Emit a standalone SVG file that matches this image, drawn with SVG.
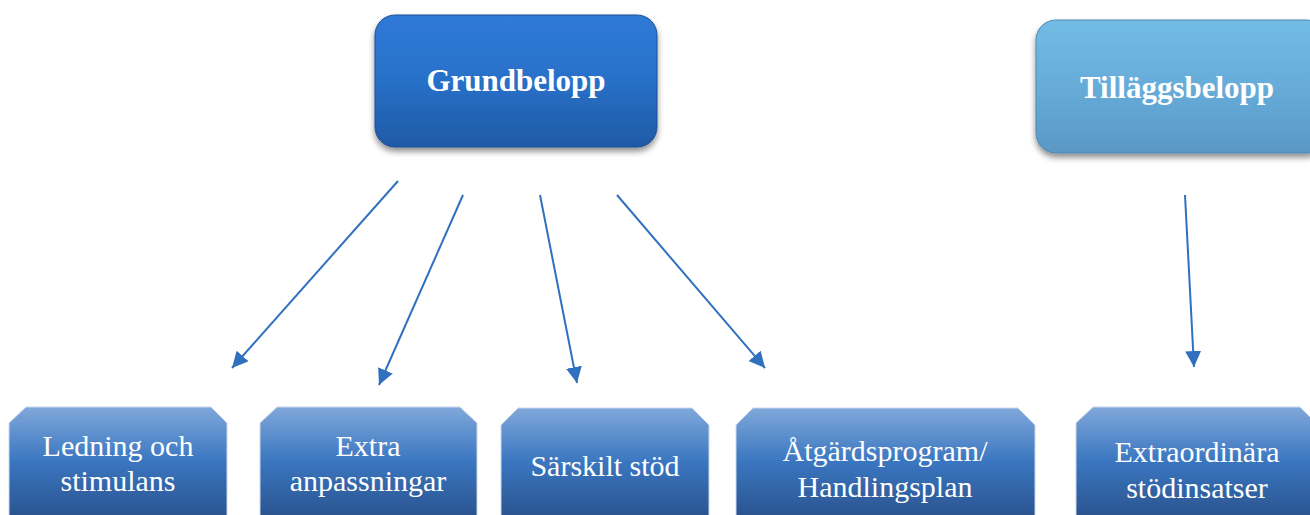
<svg xmlns="http://www.w3.org/2000/svg" width="1310" height="515" viewBox="0 0 1310 515">
<defs>
<style>
.top{font-family:"Liberation Serif","Times New Roman",serif;font-weight:bold;font-size:31px;fill:#ffffff;text-anchor:middle}
.lbl{font-family:"Liberation Serif","Times New Roman",serif;font-size:30px;fill:#ffffff;text-anchor:middle}
.conn{stroke:#3070bf;stroke-width:2;fill:none}
.leaf{fill:url(#gLeaf);stroke:#c9d8ee;stroke-width:1}
</style>
<linearGradient id="gDark" x1="0" y1="0" x2="0" y2="1">
<stop offset="0" stop-color="#2e7ad6"/>
<stop offset="0.5" stop-color="#2870c8"/>
<stop offset="1" stop-color="#1f5aa6"/>
</linearGradient>
<linearGradient id="gLight" x1="0" y1="0" x2="0" y2="1">
<stop offset="0" stop-color="#72bce6"/>
<stop offset="0.5" stop-color="#67acd9"/>
<stop offset="1" stop-color="#5a98c6"/>
</linearGradient>
<linearGradient id="gLeaf" x1="0" y1="0" x2="0" y2="1">
<stop offset="0" stop-color="#80a8da"/>
<stop offset="0.5" stop-color="#3a76c0"/>
<stop offset="1" stop-color="#2b5490"/>
</linearGradient>
<filter id="sh" x="-10%" y="-10%" width="120%" height="135%">
<feGaussianBlur in="SourceAlpha" stdDeviation="3"/>
<feOffset dx="0" dy="4" result="b"/>
<feComponentTransfer><feFuncA type="linear" slope="0.45"/></feComponentTransfer>
<feMerge><feMergeNode/><feMergeNode in="SourceGraphic"/></feMerge>
</filter>
<marker id="ah" markerUnits="userSpaceOnUse" markerWidth="18" markerHeight="16" refX="16" refY="8" orient="auto">
<path d="M0,0 L16,8 L0,16 Z" fill="#3070bf"/>
</marker>
</defs>
<rect width="1310" height="515" fill="#ffffff"/>

<g id="grundbelopp">
<rect x="375" y="15" width="282" height="132" rx="20" ry="20" fill="url(#gDark)" stroke="#1d4f93" stroke-width="1" filter="url(#sh)"/>
<text class="top" x="516" y="91">Grundbelopp</text>
</g>

<g id="tillaggsbelopp">
<rect x="1036" y="20" width="290" height="133" rx="20" ry="20" fill="url(#gLight)" stroke="#4d87b3" stroke-width="1" filter="url(#sh)"/>
<text class="top" x="1177" y="98">Tilläggsbelopp</text>
</g>

<g id="ledning">
<path class="leaf" d="M9,423 L26,407 L211,407 L227,423 L227,516 L9,516 Z"/>
<text class="lbl" x="118" y="456">Ledning och</text>
<text class="lbl" x="118" y="491">stimulans</text>
</g>

<g id="extra">
<path class="leaf" d="M260,423 L277,407 L460,407 L477,423 L477,516 L260,516 Z"/>
<text class="lbl" x="368" y="456">Extra</text>
<text class="lbl" x="368" y="491">anpassningar</text>
</g>

<g id="sarskilt">
<path class="leaf" d="M501,425 L518,408 L692,408 L709,425 L709,516 L501,516 Z"/>
<text class="lbl" x="605" y="476">Särskilt stöd</text>
</g>

<g id="atgardsprogram">
<path class="leaf" d="M736,425 L753,408 L1018,408 L1035,425 L1035,516 L736,516 Z"/>
<text class="lbl" x="885" y="461">Åtgärdsprogram/</text>
<text class="lbl" x="885" y="497">Handlingsplan</text>
</g>

<g id="extraordinara">
<path class="leaf" d="M1076,423 L1093,407 L1300,407 L1316,423 L1316,516 L1076,516 Z"/>
<text class="lbl" x="1197" y="462">Extraordinära</text>
<text class="lbl" x="1197" y="498">stödinsatser</text>
</g>

<g id="connectors">
<line class="conn" x1="398" y1="181" x2="232" y2="368" marker-end="url(#ah)"/>
<line class="conn" x1="463" y1="195" x2="379" y2="385" marker-end="url(#ah)"/>
<line class="conn" x1="540" y1="195" x2="577" y2="383" marker-end="url(#ah)"/>
<line class="conn" x1="617" y1="195" x2="765" y2="368" marker-end="url(#ah)"/>
<line class="conn" x1="1185" y1="195" x2="1194" y2="367" marker-end="url(#ah)"/>
</g>
</svg>
